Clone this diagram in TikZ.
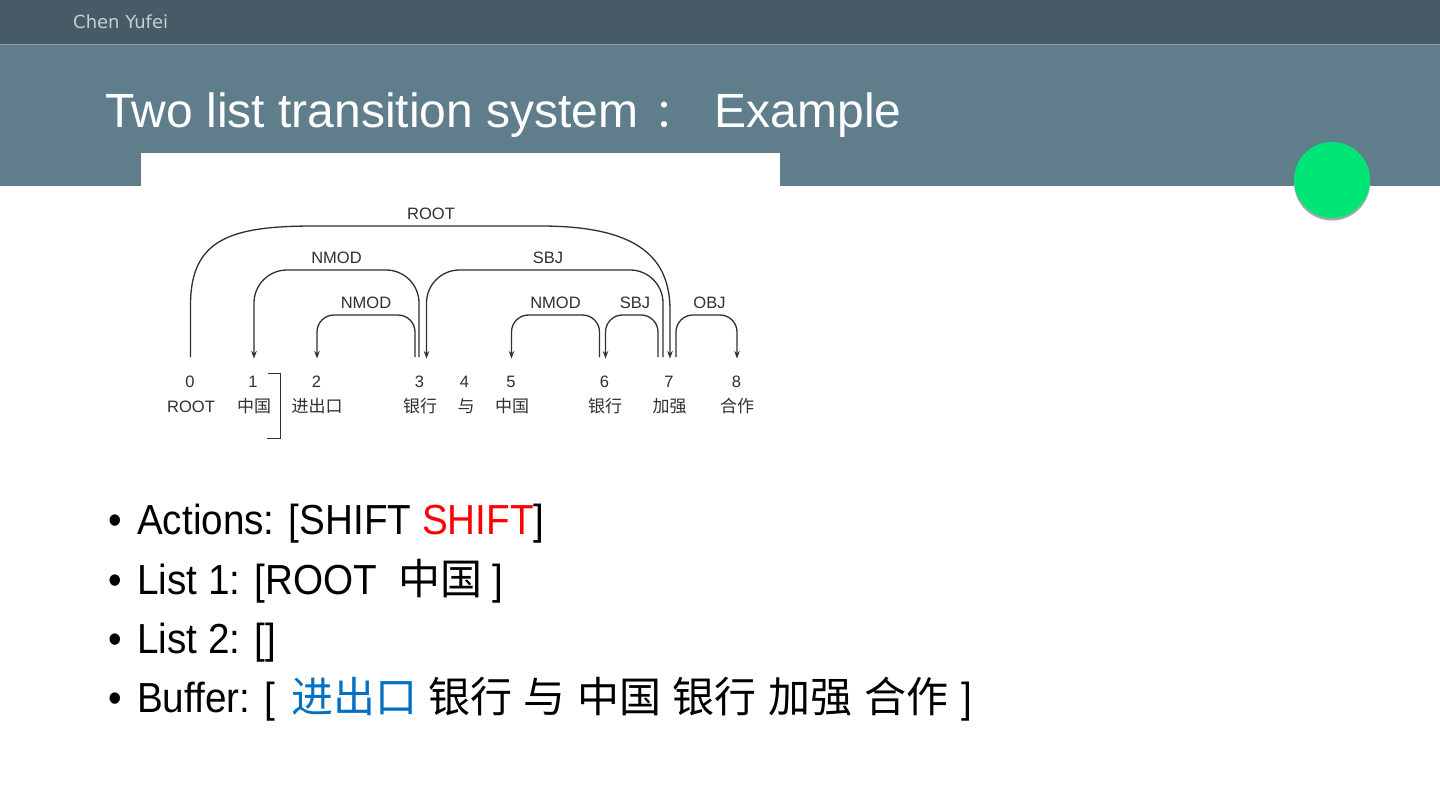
\documentclass[tikz,border=0pt]{standalone}
\usepackage{fontspec}
\setmainfont{Liberation Sans}
\newfontfamily\cjk{Noto Sans CJK SC}
\newfontfamily\dejavu{DejaVu Sans}
\newfontfamily\bodyfont{Liberation Sans}[FakeStretch=0.92]
\usetikzlibrary{arrows.meta}
\definecolor{topbar}{HTML}{475B67}
\definecolor{band}{HTML}{607D8B}
\definecolor{bandline}{HTML}{8DA2AD}
\definecolor{authorc}{HTML}{C5CFD5}
\definecolor{mintgreen}{HTML}{00E676}
\definecolor{bluew}{HTML}{0070C0}
\definecolor{arcc}{HTML}{303030}
\tikzset{
  dep/.style={draw=arcc, line width=1.3pt, -{Stealth[length=7.5pt,width=5.5pt]}},
  deplbl/.style={anchor=base, inner sep=0pt, font=\fontsize{16.5}{18}\selectfont, text=arcc},
  numlbl/.style={anchor=base, inner sep=0pt, font=\fontsize{16.5}{18}\selectfont, text=arcc},
  wordlbl/.style={anchor=base, inner sep=0pt, font=\cjk\fontsize{17}{18}\selectfont, text=arcc},
  bullet/.style={anchor=base west, inner sep=0pt, font=\bodyfont\fontsize{42}{46}\selectfont},
  btext/.style={anchor=base west, inner sep=0pt, font=\bodyfont\fontsize{42}{46}\selectfont},
}
\newcommand{\zh}[1]{{\cjk\fontsize{42}{46}\selectfont #1}}
\begin{document}
\begin{tikzpicture}[x=1pt,y=-1pt]
\useasboundingbox (0,0) rectangle (1440,810);
\fill[white] (0,0) rectangle (1440,810);
% header
\fill[band] (0,44) rectangle (1440,186);
\fill[topbar] (0,0) rectangle (1440,44);
\draw[bandline, line width=1pt] (0,44.5) -- (1440,44.5);
\node[anchor=base west, inner sep=0pt, text=authorc, font=\dejavu\fontsize{18}{20}\selectfont] (author) at (73,29) {Chen Yufei};
\node[anchor=base west, inner sep=0pt, text=white, font=\fontsize{48}{56}\selectfont] (title) at (105,128) {Two list transition system\hspace{16pt}{\cjk\fontsize{40}{48}\selectfont ：}\hspace{20pt}Example};
% white figure area
\fill[white] (141,153) rectangle (780,187);
% green circle
\fill[black!35] (1332,182.5) circle (38);
\fill[mintgreen] (1332,180) circle (38);

% dependency tree: numbers
\node[numlbl] (n0) at (190,387) {0};
\node[numlbl] (n1) at (253,387) {1};
\node[numlbl] (n2) at (316.5,387) {2};
\node[numlbl] (n3) at (419.5,387) {3};
\node[numlbl] (n4) at (464.5,387) {4};
\node[numlbl] (n5) at (511,387) {5};
\node[numlbl] (n6) at (604.5,387) {6};
\node[numlbl] (n7) at (669,387) {7};
\node[numlbl] (n8) at (736.5,387) {8};
% words
\node[numlbl] (w0) at (191,412.5) {ROOT};
\node[wordlbl] (w1) at (254,412.5) {中国};
\node[wordlbl] (w2) at (317,412.5) {进出口};
\node[wordlbl] (w3) at (420,412.5) {银行};
\node[wordlbl] (w4) at (466,412.5) {与};
\node[wordlbl] (w5) at (512,412.5) {中国};
\node[wordlbl] (w6) at (605,412.5) {银行};
\node[wordlbl] (w7) at (669.5,412.5) {加强};
\node[wordlbl] (w8) at (737,412.5) {合作};
% bracket
\draw[arcc, line width=0.9pt] (268,373.5) -- (280.5,373.5) -- (280.5,438.5) -- (267,438.5);

% arc endpoints
\coordinate (t0) at (190.5,357);
\coordinate (h7a) at (670,358.5);
\coordinate (t3a) at (419,357);
\coordinate (h1) at (254,358.5);
\coordinate (c31) at (336,270);
\coordinate (t3b) at (415,357);
\coordinate (h2) at (317,358.5);
\coordinate (c32) at (366,315);
\coordinate (t7a) at (663,357);
\coordinate (h3) at (426.5,358.5);
\coordinate (c73) at (548,270);
\coordinate (t6) at (599.5,357);
\coordinate (h5) at (511.5,358.5);
\coordinate (c65) at (555,315);
\coordinate (t7b) at (658,357);
\coordinate (h6) at (605.5,358.5);
\coordinate (c76) at (632,315);
\coordinate (t7c) at (676,357);
\coordinate (h8) at (737,358.5);
\coordinate (c78) at (706,315);

% ROOT arc
\draw[dep] (t0) -- (190.5,305) .. controls (190.5,238) and (232,226) .. (315,226)
  -- (540,226) .. controls (630,226) and (670,252) .. (670,310) -- (h7a);
\draw[dep, rounded corners=33pt] (t3a) -- (t3a |- c31) -- (h1 |- c31) -- (h1);
\draw[dep, rounded corners=17pt] (t3b) -- (t3b |- c32) -- (h2 |- c32) -- (h2);
\draw[dep, rounded corners=33pt] (t7a) -- (t7a |- c73) -- (h3 |- c73) -- (h3);
\draw[dep, rounded corners=17pt] (t6) -- (t6 |- c65) -- (h5 |- c65) -- (h5);
\draw[dep, rounded corners=17pt] (t7b) -- (t7b |- c76) -- (h6 |- c76) -- (h6);
\draw[dep, rounded corners=17pt] (t7c) -- (t7c |- c78) -- (h8 |- c78) -- (h8);
% arc labels
\node[deplbl] (lroot) at (431,220) {ROOT};
\node[deplbl] (lnm1) at (336.5,264) {NMOD};
\node[deplbl] (lnm2) at (366,308.3) {NMOD};
\node[deplbl] (lsbj1) at (548,264) {SBJ};
\node[deplbl] (lnm3) at (555.5,308.3) {NMOD};
\node[deplbl] (lsbj2) at (635,308.3) {SBJ};
\node[deplbl] (lobj) at (709.5,308.3) {OBJ};

% bullets
\node[bullet] (b1) at (108,534) {•};
\node[btext] (l1) at (137,534) {Actions: [SHIFT \textcolor{red}{SHIFT}]};
\node[bullet] (b2) at (108,594) {•};
\node[btext] (l2) at (137,594) {List 1: [ROOT\hspace{22pt}\zh{中国}\hspace{10pt}]};
\node[bullet] (b3) at (108,653) {•};
\node[btext] (l3) at (137,653) {List 2: []};
\node[bullet] (b4) at (108,712) {•};
\node[btext] (l4) at (137,712) {Buffer: [\hspace{16pt}\textcolor{bluew}{\zh{进出口}}\hspace{11pt}\zh{银行}\hspace{11pt}\zh{与}\hspace{12pt}\zh{中国}\hspace{11pt}\zh{银行}\hspace{12pt}\zh{加强}\hspace{12pt}\zh{合作}\hspace{13pt}]};
\end{tikzpicture}
\end{document}
